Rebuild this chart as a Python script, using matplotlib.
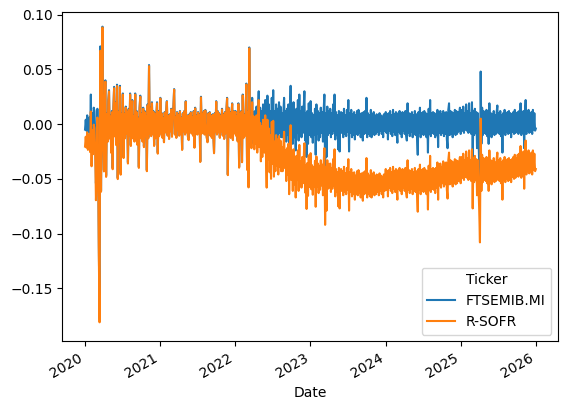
import matplotlib
matplotlib.use("Agg")
import matplotlib.pyplot as plt
import matplotlib.dates as mdates
import numpy as np
import pandas as pd

# FTSE MIB returns (about two samples per week)
ret_2020 = [
    -0.005, 0.004, -0.006, 0.008, -0.008, 0.003, 0.006, -0.010, 0.027, -0.023, 0.010, -0.012, 0.015,
    0.012, -0.008, -0.054, -0.036, 0.014, -0.025, -0.112, -0.177, 0.071, -0.061, 0.025, 0.089, -0.015,
    -0.042, 0.018, 0.040, -0.047, 0.010, -0.015, 0.022, 0.031, -0.012, 0.008, -0.025, 0.012, -0.040,
    0.015, 0.034, -0.010, 0.020, -0.018, 0.036, -0.049, 0.012, -0.015, 0.035, -0.045, 0.010, -0.008,
    0.028, -0.030, 0.010, -0.012, 0.016, -0.008, 0.012, -0.035, 0.014, -0.010, 0.028, -0.019, 0.008,
    0.022, -0.012, 0.008, -0.015, 0.028, -0.010, 0.012, -0.018, 0.006, -0.039, 0.015, 0.026, -0.012,
    0.010, -0.015, 0.015, -0.020, 0.012, -0.010, 0.008, -0.042, 0.018, -0.012, 0.054, -0.008, 0.015,
    -0.010, 0.020, -0.008, 0.012, -0.019, 0.010, -0.012, 0.008, 0.020, -0.026, 0.012, -0.010, 0.006,
]
ret_2021 = [
    0.024, -0.008, 0.010, -0.012, 0.006, -0.016, 0.011, -0.007, 0.012, 0.021, -0.010, 0.008, -0.013,
    0.009, -0.006, 0.014, -0.011, 0.010, 0.016, 0.032, -0.009, 0.007, -0.012, 0.011, -0.005, 0.009,
    -0.010, 0.012, -0.008, 0.006, -0.023, 0.010, -0.006, 0.012, -0.009, 0.021, -0.007, 0.008, -0.011,
    -0.014, 0.009, -0.006, 0.011, -0.008, 0.007, -0.010, 0.012, -0.021, 0.015, -0.006, 0.008, -0.009,
    0.011, -0.007, 0.009, -0.034, 0.025, -0.008, 0.010, -0.006, 0.012, -0.009, 0.013, -0.005, -0.012,
    -0.016, 0.010, -0.007, 0.011, -0.010, 0.008, -0.012, 0.009, -0.008, -0.026, 0.010, -0.006, 0.021,
    -0.009, 0.012, -0.007, 0.010, -0.012, 0.008, -0.006, 0.014, -0.010, 0.009, -0.013, 0.011, -0.008,
    0.012, 0.024, -0.046, 0.015, -0.010, 0.011, -0.012, 0.009, 0.019, -0.014, 0.012, -0.008, 0.010,
]
ret_2022 = [
    0.012, -0.010, 0.008, -0.015, 0.019, -0.039, 0.010, -0.008, 0.012, -0.034, 0.027, -0.012, 0.009,
    -0.010, 0.015, 0.037, -0.041, 0.012, -0.057, 0.070, -0.015, 0.010, -0.018, 0.024, -0.009, 0.011,
    -0.015, 0.012, -0.010, 0.016, -0.018, 0.010, 0.030, -0.013, 0.015, -0.020, 0.012, -0.016, 0.018,
    0.014, -0.012, 0.022, -0.015, -0.036, 0.026, -0.010, 0.018, -0.022, 0.012, -0.028, 0.024, -0.014,
    0.031, -0.020, 0.012, -0.015, 0.018, -0.010, 0.014, -0.018, 0.020, -0.008, 0.016, -0.012, 0.010,
    -0.012, 0.010, 0.024, -0.009, 0.012, -0.016, 0.014, -0.010, 0.018, -0.028, 0.010, 0.035, -0.015,
    0.015, -0.018, 0.020, -0.012, 0.010, -0.024, 0.014, -0.008, 0.022, -0.015, 0.027, -0.010, 0.012,
    -0.012, 0.016, -0.008, 0.014, 0.030, -0.015, 0.010, -0.030, 0.012, -0.018, 0.019, -0.010, 0.008,
]
ret_2023 = [
    0.021, -0.012, 0.010, -0.017, 0.008, -0.010, 0.014, -0.028, 0.018, -0.009, 0.012, -0.015, 0.010,
    -0.012, 0.015, -0.008, 0.011, -0.016, 0.013, 0.027, -0.043, 0.010, -0.030, 0.016, -0.010, 0.012,
    -0.008, 0.014, -0.012, 0.010, -0.009, 0.018, -0.006, 0.027, -0.014, 0.011, -0.010, 0.008, -0.023,
    0.012, -0.025, 0.009, 0.011, -0.008, 0.010, -0.012, 0.014, -0.009, 0.008, -0.011, 0.013, -0.007,
    0.022, -0.025, 0.010, -0.008, 0.013, -0.012, 0.009, -0.010, 0.011, -0.014, 0.008, -0.009, 0.012,
    -0.010, 0.013, -0.008, 0.009, -0.012, 0.010, -0.007, -0.015, 0.011, -0.009, 0.012, -0.008, 0.024,
    -0.012, 0.010, -0.009, 0.008, -0.011, 0.013, -0.012, 0.009, -0.008, 0.011, -0.010, 0.007, -0.009,
    0.009, -0.007, 0.008, -0.010, 0.010, -0.006, 0.008, -0.009, 0.007, -0.012, 0.009, -0.006, 0.008,
]
ret_2024 = [
    0.011, -0.008, 0.009, -0.014, 0.010, -0.006, 0.012, -0.009, 0.008, -0.011, 0.013, -0.007, 0.009,
    -0.010, 0.011, -0.008, -0.017, 0.010, -0.007, 0.012, -0.009, 0.008, -0.012, 0.011, -0.006, 0.010,
    -0.009, 0.012, -0.010, -0.015, 0.019, -0.008, 0.010, -0.011, 0.009, -0.007, 0.011, -0.012, 0.008,
    -0.009, 0.012, -0.010, 0.009, -0.013, -0.028, 0.011, -0.008, 0.015, -0.012, 0.010, -0.009, 0.011,
    -0.010, 0.012, -0.008, 0.010, -0.012, 0.009, -0.026, 0.014, -0.009, 0.022, -0.011, 0.010, -0.008,
    0.011, -0.009, 0.010, -0.012, 0.008, -0.010, 0.013, -0.021, 0.011, -0.008, 0.012, -0.010, 0.009,
    -0.008, 0.012, -0.011, 0.010, -0.009, 0.011, -0.014, -0.022, 0.013, 0.019, -0.010, 0.012, -0.009,
    0.011, -0.012, 0.010, -0.008, 0.013, -0.010, 0.012, -0.009, 0.011, -0.007, 0.010, 0.015, -0.009,
]
ret_2025 = [
    -0.007, 0.013, -0.006, 0.016, -0.008, 0.010, -0.005, 0.018, -0.006, 0.012, -0.008, 0.019, -0.007,
    0.010, -0.009, 0.020, -0.034, 0.012, -0.010, 0.014, -0.008, 0.011, -0.022, 0.010, -0.012, -0.036,
    -0.065, 0.048, -0.018, 0.015, -0.010, 0.012, -0.008, 0.011, -0.009, 0.013, -0.011, 0.009, -0.018,
    0.019, -0.008, 0.010, -0.012, 0.009, -0.007, 0.012, -0.010, 0.008, -0.009, 0.011, 0.017, -0.008,
    0.010, -0.009, 0.012, -0.011, 0.008, -0.026, 0.010, -0.008, 0.013, -0.010, 0.009, -0.007, 0.011,
    -0.009, 0.012, -0.008, 0.010, -0.012, 0.009, -0.007, 0.011, -0.009, 0.013, -0.008, 0.010, -0.006,
    0.011, -0.009, 0.012, -0.007, 0.019, -0.010, 0.009, -0.008, 0.012, -0.022, 0.010, 0.022, -0.009,
    0.010, -0.006, 0.013, -0.008, 0.009, -0.007, 0.011, -0.009, 0.013, -0.005, 0.010, -0.006, -0.004,
]

# short rate (annual, as a fraction), step changes
rate_dates = [
    "2020-01-01", "2020-03-02", "2020-03-10", "2020-03-18", "2020-04-01", "2020-07-01",
    "2021-01-01", "2022-01-01", "2022-03-15", "2022-04-01", "2022-05-01",
    "2022-06-01", "2022-07-01", "2022-08-01", "2022-09-01", "2022-10-01", "2022-11-01",
    "2022-12-01", "2023-02-01", "2023-03-01", "2023-04-01", "2023-05-01", "2023-06-01",
    "2023-07-01", "2023-08-01", "2024-01-01", "2024-08-01", "2024-09-01", "2024-10-01",
    "2024-11-01", "2025-01-01", "2025-09-01", "2025-10-01", "2025-11-01",
]
rate_values = [
    0.0155, 0.0080, 0.0040, 0.0008, 0.0012, 0.0010,
    0.0006, 0.0008, 0.0040, 0.0080, 0.0140,
    0.0220, 0.0280, 0.0310, 0.0360, 0.0430, 0.0460,
    0.0475, 0.0480, 0.0490, 0.0500, 0.0520, 0.0530,
    0.0540, 0.0550, 0.0520, 0.0510, 0.0480, 0.0460,
    0.0450, 0.0430, 0.0410, 0.0390, 0.0370,
]

years = [2020, 2021, 2022, 2023, 2024, 2025]
yearly = [ret_2020, ret_2021, ret_2022, ret_2023, ret_2024, ret_2025]

# ------------------------------------------------------------------
# Build the frame
# ------------------------------------------------------------------
idx = []
for y, vals in zip(years, yearly):
    idx.append(pd.date_range(f"{y}-01-02", f"{y}-12-31", periods=len(vals)))
dates = idx[0].append(idx[1:])
ret = np.concatenate([np.asarray(v) for v in yearly])

rd = pd.to_datetime(rate_dates)
pos = np.searchsorted(rd.values, dates.values, side="right") - 1
rate = np.asarray(rate_values)[pos]

df = pd.DataFrame({"FTSEMIB.MI": ret, "R-SOFR": ret - rate}, index=dates)

# ------------------------------------------------------------------
# Plot
# ------------------------------------------------------------------
fig, ax = plt.subplots(figsize=(5.68, 4.07), dpi=100)
ax.plot(df.index, df["FTSEMIB.MI"], color="C0", label="FTSEMIB.MI")
ax.plot(df.index, df["R-SOFR"], color="C1", label="R-SOFR")

ax.set_ylim(-0.1985, 0.1022)
ax.xaxis.set_major_locator(mdates.YearLocator())
ax.xaxis.set_major_formatter(mdates.DateFormatter("%Y"))
ax.set_xlabel("Date")
ax.legend(title="Ticker", loc="lower right")

fig.autofmt_xdate()
fig.subplots_adjust(left=0.110, right=0.983, top=0.970, bottom=0.161)
fig.savefig("out.png", dpi=100)
